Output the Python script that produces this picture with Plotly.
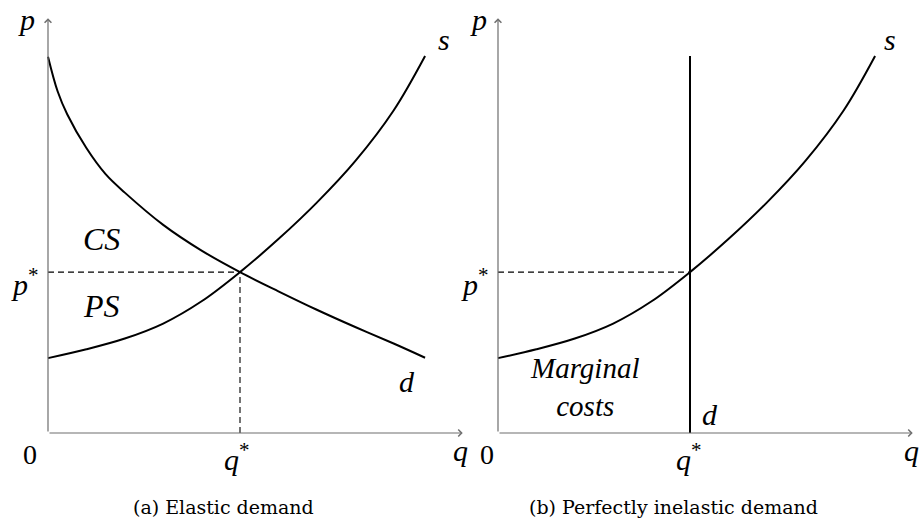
import plotly.graph_objects as go

# ---------------- data (units ~ cm) ----------------
supply_q = [0.0, 1.0, 2.0, 3.0, 4.0, 5.0, 6.0, 7.0, 8.0, 9.0, 9.82]
supply_p = [1.95, 2.18, 2.46, 2.85, 3.43, 4.19, 5.05, 6.0, 7.08, 8.4, 9.82]

demand_q = [0.0, 0.25, 0.5, 1.0, 1.5, 2.0, 3.0, 4.0, 5.0, 6.0, 7.0, 8.0, 9.0, 9.82]
demand_p = [9.80, 8.90, 8.30, 7.42, 6.74, 6.26, 5.42, 4.75, 4.19, 3.69, 3.21, 2.76, 2.33, 1.96]

q_star = 5.0
p_star = 4.19
inelastic_top = 9.82
axis_len = 10.8

captions = ["(a) Elastic demand", "(b) Perfectly inelastic demand"]

# ---------------- layout geometry ----------------
W, H = 920, 520
PX = 38.4            # pixels per unit
ORIGIN_Y = 433       # pixel row of p = 0
ORIGIN_XA = 48       # pixel column of q = 0, panel a
ORIGIN_XB = 498      # pixel column of q = 0, panel b
DOM_A = [0.0, 0.52]
DOM_B = [0.47, 1.0]

def xrange_for(dom, origin_px):
    start = -(origin_px - dom[0] * W) / PX
    return [start, start + (dom[1] - dom[0]) * W / PX]

yrange = [-(H - ORIGIN_Y) / PX, ORIGIN_Y / PX]

SERIF = "'Liberation Serif', 'DejaVu Serif', serif"
CAPTION_FONT = "'DejaVu Serif', 'Liberation Serif', serif"
BLACK = "#000000"
AXIS_COL = "#6e6e6e"

fig = go.Figure()

def line(xs, ys, xa, ya, width=2, dash=None, shape="spline"):
    fig.add_trace(go.Scatter(
        x=xs, y=ys, xaxis=xa, yaxis=ya, mode="lines",
        line=dict(color=BLACK, width=width, dash=dash, shape=shape, smoothing=1.0),
        hoverinfo="skip", showlegend=False))

# panel a
line([0, q_star], [p_star, p_star], "x", "y", width=1.1, dash="6px,4px", shape="linear")
line([q_star, q_star], [0, p_star], "x", "y", width=1.1, dash="6px,4px", shape="linear")
line(demand_q, demand_p, "x", "y")
line(supply_q, supply_p, "x", "y")

# panel b
line([0, q_star], [p_star, p_star], "x2", "y2", width=1.1, dash="6px,4px", shape="linear")
line([q_star, q_star], [0, inelastic_top], "x2", "y2", shape="linear")
line(supply_q, supply_p, "x2", "y2")

annotations = []

# axes with arrow tips
for xr, yr in (("x", "y"), ("x2", "y2")):
    for tip in ((0, axis_len), (axis_len, 0)):
        annotations.append(dict(
            x=tip[0], y=tip[1], ax=0, ay=0, xref=xr, yref=yr, axref=xr, ayref=yr,
            text="", showarrow=True, arrowhead=4, arrowsize=1.1, arrowwidth=1.2,
            arrowcolor=AXIS_COL, standoff=0, startstandoff=0))

def label(text, x, y, xr, yr, size=30, family=SERIF):
    annotations.append(dict(
        x=x, y=y, xref=xr, yref=yr, text=text, showarrow=False,
        xanchor="center", yanchor="middle", align="center",
        font=dict(family=family, size=size, color=BLACK)))

# panel a labels
label("<i>p</i>", -0.55, 10.78, "x", "y")
label("<i>s</i>", 10.31, 10.25, "x", "y")
label("<i>CS</i>", 1.40, 5.06, "x", "y", 32)
label("<i>p</i><sup>*</sup>", -0.6, 3.92, "x", "y")
label("<i>PS</i>", 1.40, 3.30, "x", "y", 32)
label("<i>d</i>", 9.35, 1.35, "x", "y")
label("0", -0.47, -0.55, "x", "y", 28)
label("<i>q</i><sup>*</sup>", 4.92, -0.62, "x", "y")
label("<i>q</i>", 10.74, -0.45, "x", "y")

# panel b labels
label("<i>p</i>", -0.52, 10.78, "x2", "y2")
label("<i>s</i>", 10.21, 10.25, "x2", "y2")
label("<i>p</i><sup>*</sup>", -0.6, 3.92, "x2", "y2")
label("<i>Marginal</i><br><i>costs</i>", 2.26, 1.20, "x2", "y2", 29)
label("<i>d</i>", 5.52, 0.47, "x2", "y2")
label("0", -0.29, -0.55, "x2", "y2", 28)
label("<i>q</i><sup>*</sup>", 4.98, -0.62, "x2", "y2")
label("<i>q</i>", 10.76, -0.45, "x2", "y2")

# captions
for txt, px in zip(captions, (223, 673)):
    annotations.append(dict(
        x=px / W, y=1 - 507 / H, xref="paper", yref="paper", text=txt,
        showarrow=False, xanchor="center", yanchor="middle",
        font=dict(family=CAPTION_FONT, size=19, color=BLACK)))

ax_common = dict(visible=False, showgrid=False, zeroline=False, fixedrange=True)
fig.update_layout(
    width=W, height=H, margin=dict(l=0, r=0, t=0, b=0),
    paper_bgcolor="white", plot_bgcolor="rgba(0,0,0,0)",
    font=dict(family=SERIF),
    xaxis=dict(domain=DOM_A, range=xrange_for(DOM_A, ORIGIN_XA), anchor="y", **ax_common),
    yaxis=dict(domain=[0, 1], range=yrange, anchor="x", **ax_common),
    xaxis2=dict(domain=DOM_B, range=xrange_for(DOM_B, ORIGIN_XB), anchor="y2", **ax_common),
    yaxis2=dict(domain=[0, 1], range=yrange, anchor="x2", **ax_common),
    annotations=annotations,
    showlegend=False,
)

fig.write_html("out.html", config={"displayModeBar": False},
               post_script="document.body.style.margin='0px';")
